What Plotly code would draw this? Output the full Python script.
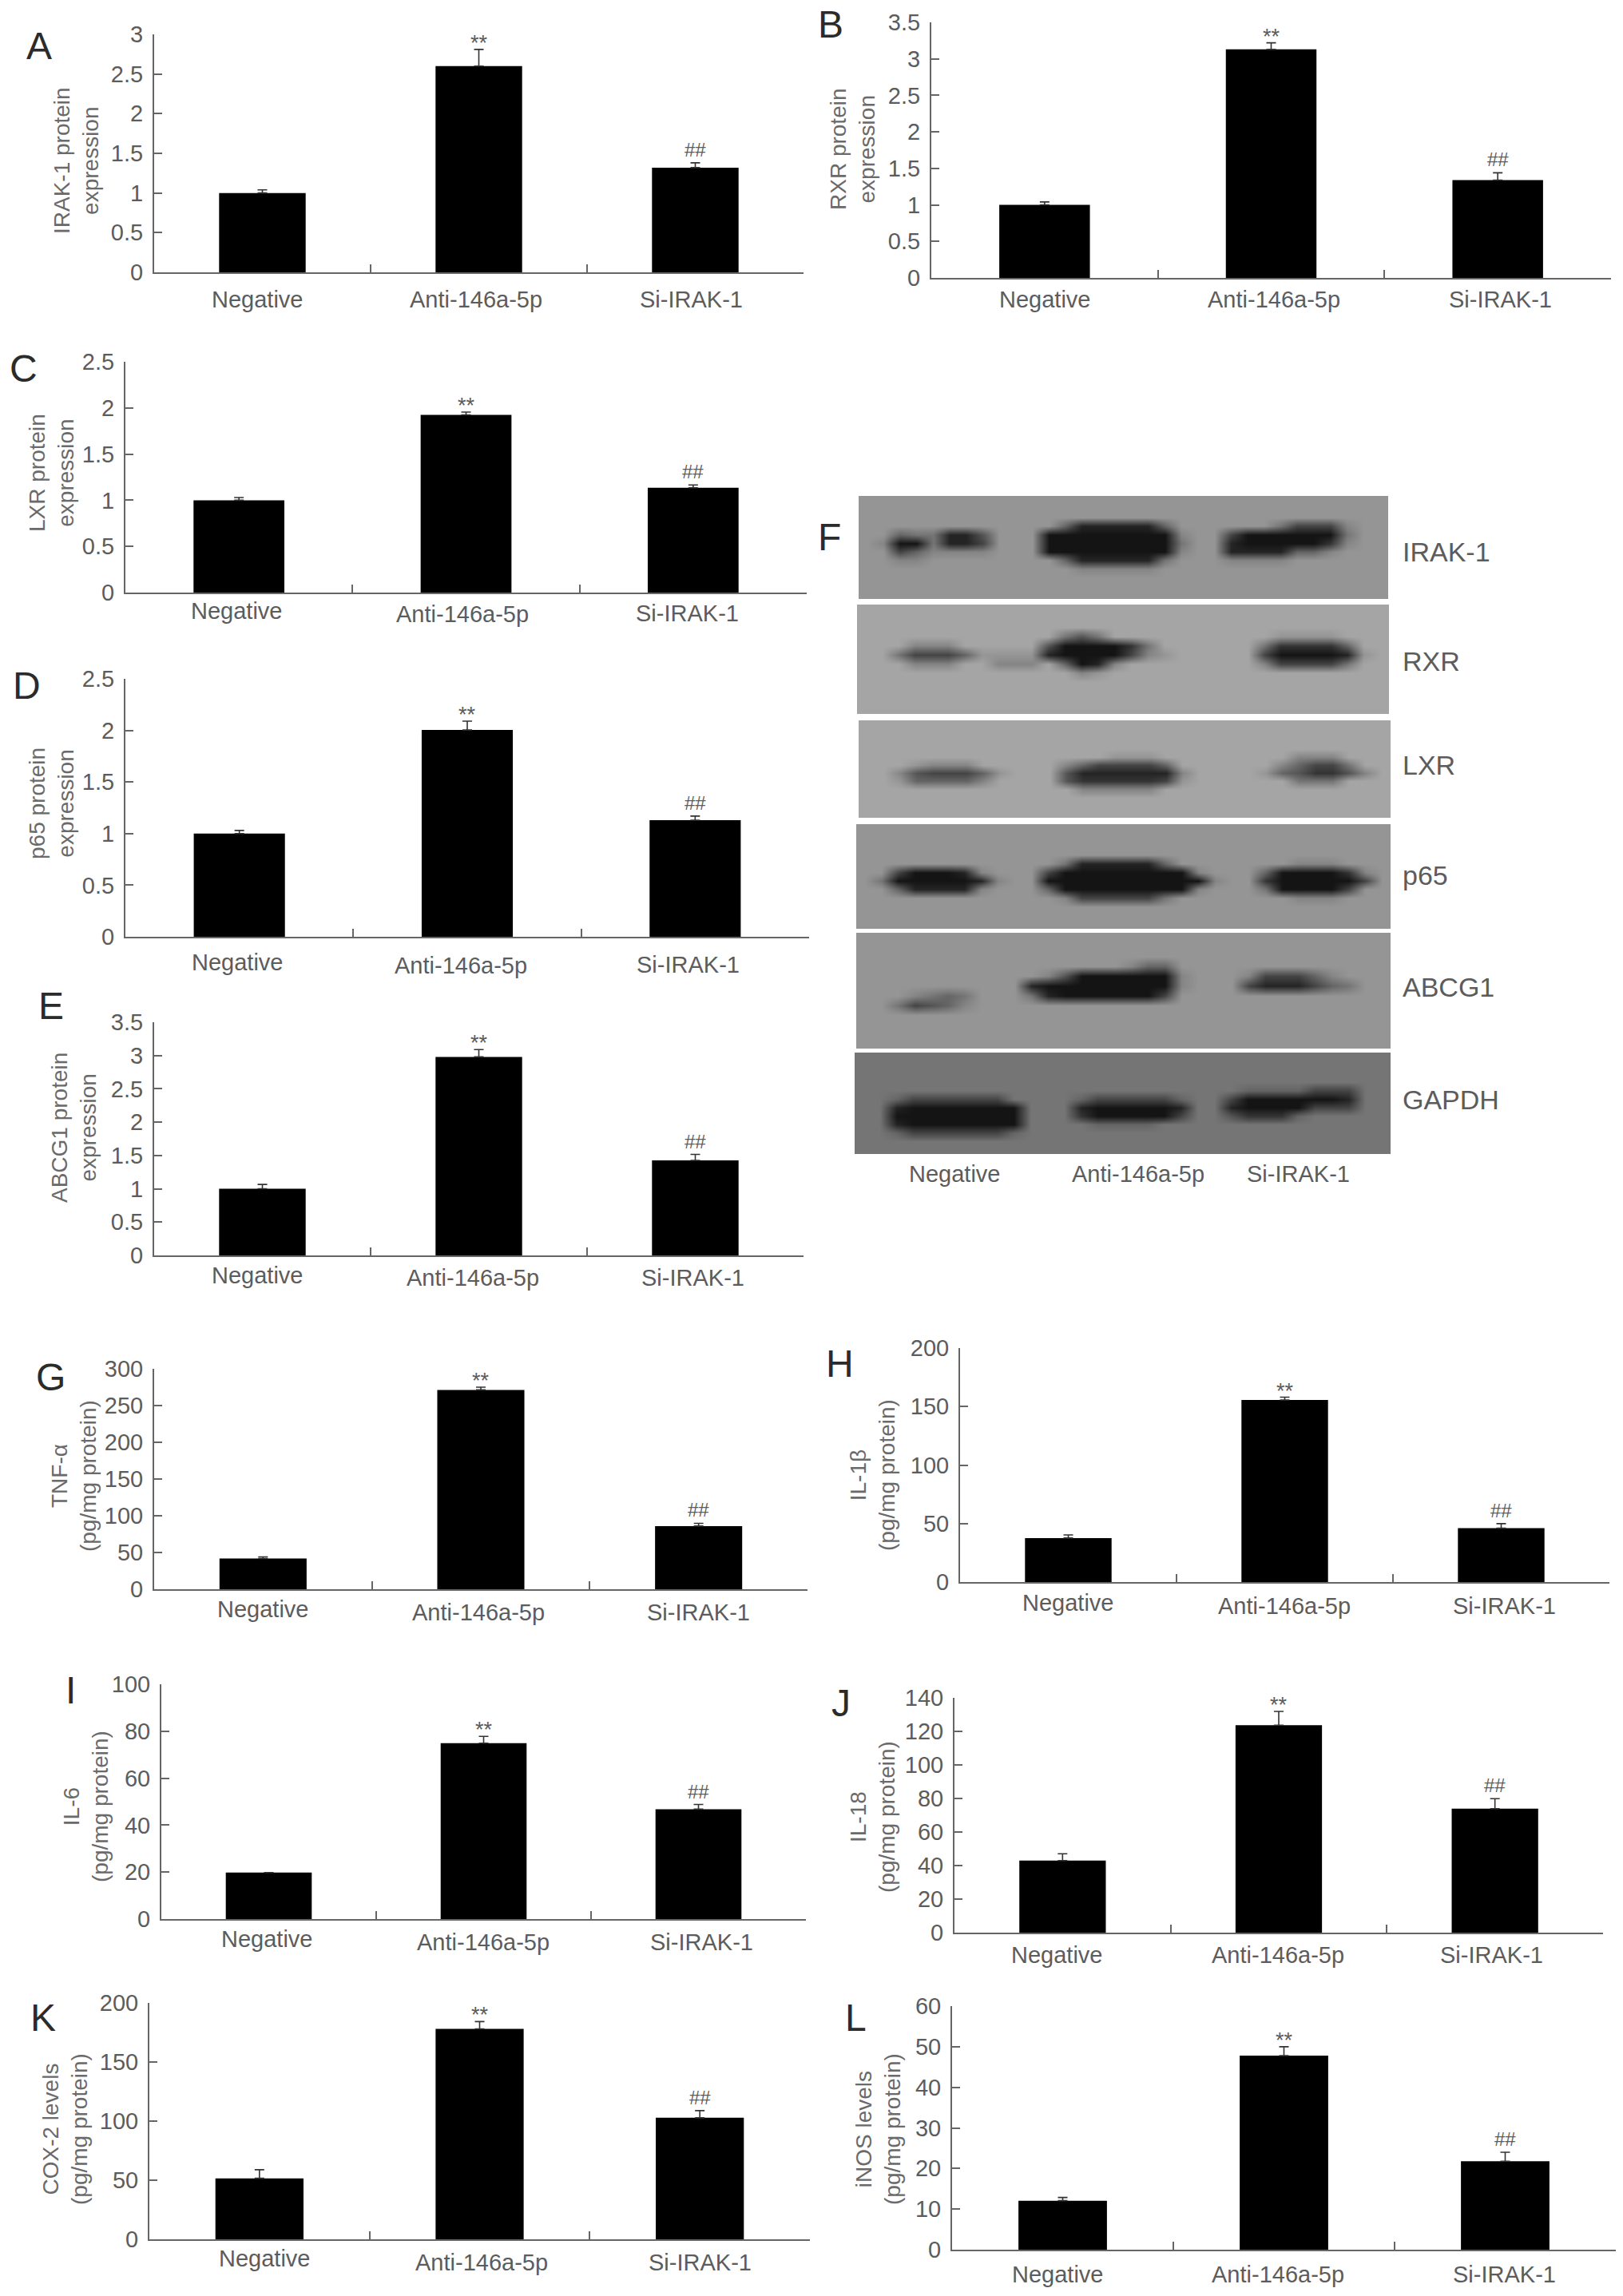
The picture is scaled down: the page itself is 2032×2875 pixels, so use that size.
import plotly.graph_objects as go

W, H = 2032, 2875
GREY = "#5c5c5c"
FONT = "Liberation Sans"

categories = ["Negative", "Anti-146a-5p", "Si-IRAK-1"]

# mean / error values
irak1_values, irak1_errors = [1.0, 2.6, 1.32], [0.04, 0.21, 0.06]
rxr_values, rxr_errors = [1.0, 3.13, 1.34], [0.04, 0.09, 0.10]
lxr_values, lxr_errors = [1.0, 1.925, 1.136], [0.03, 0.03, 0.03]
p65_values, p65_errors = [1.0, 2.005, 1.13], [0.03, 0.085, 0.04]
abcg1_values, abcg1_errors = [1.0, 2.98, 1.426], [0.065, 0.11, 0.09]
tnf_values, tnf_errors = [41.8, 271.3, 86], [2.2, 3.7, 3.7]
il1b_values, il1b_errors = [37.6, 155.6, 46], [2.7, 2.4, 3.9]
il6_values, il6_errors = [19.8, 74.9, 46.8], [0, 2.9, 2.0]
il18_values, il18_errors = [43, 123.7, 73.9], [4, 8.2, 6]
cox2_values, cox2_errors = [51.6, 178, 102.8], [7.3, 6.2, 6.1]
inos_values, inos_errors = [12.07, 47.8, 21.8], [0.8, 2.2, 2.2]

# pixel layout of the bar panels in the 2032x2875 page
panels = [
    dict(letter="A", letter_at=(49, 57), box=(193, 1006, 43, 341), ymax=3, dtick=0.5,
         title="IRAK-1 protein<br>expression", title_at=(95, 201), vals=irak1_values, errs=irak1_errors,
         lab_dy=[34, 34, 34], lab_dx=[-7, -4, -5]),
    dict(letter="B", letter_at=(1040, 30), box=(1166, 2017, 28, 348), ymax=3.5, dtick=0.5,
         title="RXR protein<br>expression", title_at=(1068, 187), vals=rxr_values, errs=rxr_errors,
         lab_dy=[27, 27, 27], lab_dx=[0, 3, 3]),
    dict(letter="C", letter_at=(29, 461), box=(157, 1010, 453, 742), ymax=2.5, dtick=0.5,
         title="LXR protein<br>expression", title_at=(64, 592), vals=lxr_values, errs=lxr_errors,
         lab_dy=[23, 27, 26], lab_dx=[-3, -5, -7]),
    dict(letter="D", letter_at=(33, 858), box=(157, 1013, 850, 1173), ymax=2.5, dtick=0.5,
         title="p65 protein<br>expression", title_at=(64, 1006), vals=p65_values, errs=p65_errors,
         lab_dy=[32, 36, 35], lab_dx=[-3, -8, -9]),
    dict(letter="E", letter_at=(64, 1259), box=(193, 1006, 1280, 1572), ymax=3.5, dtick=0.5,
         title="ABCG1 protein<br>expression", title_at=(93, 1412), vals=abcg1_values, errs=abcg1_errors,
         lab_dy=[25, 28, 28], lab_dx=[-7, -8, -3]),
    dict(letter="G", letter_at=(63, 1724), box=(193, 1011, 1714, 1990), ymax=300, dtick=50,
         title="TNF-α<br>(pg/mg protein)", title_at=(92, 1848), vals=tnf_values, errs=tnf_errors,
         lab_dy=[25, 29, 29], lab_dx=[0, -3, 0]),
    dict(letter="H", letter_at=(1051, 1707), box=(1202, 2015, 1688, 1981), ymax=200, dtick=50,
         title="IL-1β<br>(pg/mg protein)", title_at=(1092, 1847), vals=il1b_values, errs=il1b_errors,
         lab_dy=[26, 30, 30], lab_dx=[-1, -1, 4]),
    dict(letter="I", letter_at=(88, 2116), box=(202, 1009, 2109, 2403), ymax=100, dtick=20,
         title="IL-6<br>(pg/mg protein)", title_at=(107, 2262), vals=il6_values, errs=il6_errors,
         lab_dy=[25, 29, 29], lab_dx=[-3, -1, 4]),
    dict(letter="J", letter_at=(1053, 2132), box=(1195, 2007, 2126, 2420), ymax=140, dtick=20,
         title="IL-18<br>(pg/mg protein)", title_at=(1092, 2275), vals=il18_values, errs=il18_errors,
         lab_dy=[28, 28, 28], lab_dx=[-7, -1, -4]),
    dict(letter="K", letter_at=(54, 2526), box=(187, 1014, 2508, 2804), ymax=200, dtick=50,
         title="COX-2 levels<br>(pg/mg protein)", title_at=(81, 2666), vals=cox2_values, errs=cox2_errors,
         lab_dy=[24, 29, 29], lab_dx=[6, 2, 0]),
    dict(letter="L", letter_at=(1071, 2526), box=(1192, 2023, 2512, 2817), ymax=60, dtick=10,
         title="iNOS levels<br>(pg/mg protein)", title_at=(1099, 2666), vals=inos_values, errs=inos_errors,
         lab_dy=[31, 31, 31], lab_dx=[-7, -8, -1]),
]

# western blot strips: grey levels 0 (dark) to 9 (light)
blot_irak1 = [
    "88888888888888888888888888888888",
    "88888888888888888888888888888888",
    "88888888888888888888888888888888",
    "88888888888851111158888886333788",
    "88566114888000000007883000000688",
    "87006113888000000006881000002788",
    "88357777888000000007881111557888",
    "88778888888851111168887777888888",
    "88888888888887777788888888888888",
    "88888888888888888888888888888888",
    "88888888888888888888888888888888",
    "88888888888888888888888888888888",
]
blot_rxr = [
    "99999999999999999999999999999999",
    "99999999999999999999999999999999",
    "99999999999999999999999999999999",
    "99999999999964699999999998888999",
    "99977799999400002699999962222599",
    "99633358888100003789999930000189",
    "99977799777950179999999973333699",
    "99999999999997899999999999999999",
    "99999999999999999999999999999999",
    "99999999999999999999999999999999",
    "99999999999999999999999999999999",
    "99999999999999999999999999999999",
]
blot_lxr = [
    "99999999999999999999999999999999",
    "99999999999999999999999999999999",
    "99999999999999999999999999999999",
    "99999999999999999999999999999999",
    "99999999999999988899999999777999",
    "99987779999975333359999997533699",
    "99743335899941111117999985422479",
    "99855557999942222238999999666999",
    "99999999999997777799999999999999",
    "99999999999999999999999999999999",
    "99999999999999999999999999999999",
    "99999999999999999999999999999999",
]
blot_p65 = [
    "88888888888888888888888888888888",
    "88888888888888888888888888888888",
    "88888888888888888888888888888888",
    "88888888888888888888888888888888",
    "88888888888861111158888888777888",
    "88300017888300000000788850000278",
    "86000001788000000000078820000038",
    "88511117888500000000788860000388",
    "88888888888873333368888888777888",
    "88888888888888888888888888888888",
    "88888888888888888888888888888888",
    "88888888888888888888888888888888",
]
blot_abcg1 = [
    "88888888888888888888888888888888",
    "88888888888888888888888888888888",
    "88888888888888888888888888888888",
    "88888888888888887558888888888888",
    "88888888888740000007888733357888",
    "88888888881000000007888311135688",
    "88876568886100000038888888888888",
    "88634578888888888888888888888888",
    "88888888888888888888888888888888",
    "88888888888888888888888888888888",
    "88888888888888888888888888888888",
    "88888888888888888888888888888888",
]
blot_gapdh = [
    "66666666666666666666666666666666",
    "66666666666666666666666666666666",
    "66666666666666666666666666666666",
    "66666666666666666666666666666666",
    "66666666666666666666666555533366",
    "66533333366665333335663000000166",
    "66100000006661000001661000033366",
    "66000000006662000003664222566666",
    "66100000006666555566666666666666",
    "66533333356666666666666666666666",
    "66666666666666666666666666666666",
    "66666666666666666666666666666666",
]
blot_labels = ["IRAK-1", "RXR", "LXR", "p65", "ABCG1", "GAPDH"]

blot_strips = [
    (blot_irak1, (1075, 1738, 621, 750), 691),
    (blot_rxr, (1073, 1739, 757, 894), 828),
    (blot_lxr, (1075, 1741, 902, 1024), 958),
    (blot_p65, (1072, 1741, 1032, 1163), 1096),
    (blot_abcg1, (1072, 1741, 1168, 1313), 1236),
    (blot_gapdh, (1070, 1741, 1318, 1445), 1377),
]
blot_lanes = [(1195, "Negative"), (1425, "Anti-146a-5p"), (1625, "Si-IRAK-1")]


def px(x):
    return x / W


def py(y):
    return 1 - y / H


fig = go.Figure()
annotations = []
axes = {}

for n, p in enumerate(panels, start=1):
    x0, x1, y0, y1 = p["box"]
    fig.add_trace(go.Bar(
        x=categories, y=p["vals"], width=0.4,
        marker=dict(color="black", line=dict(width=0)),
        error_y=dict(type="data", symmetric=False, array=p["errs"], arrayminus=[0, 0, 0],
                     color="#333333", thickness=1.6, width=6),
        xaxis=f"x{n}", yaxis=f"y{n}", showlegend=False,
    ))
    axes[f"xaxis{n}"] = dict(
        domain=[px(x0), px(x1)], anchor=f"y{n}", type="category", range=[-0.5, 2.5],
        tickson="boundaries", ticks="inside", ticklen=10, tickwidth=2, tickcolor="#666666",
        showline=True, linecolor="#666666", linewidth=2, showgrid=False, zeroline=False,
        showticklabels=False,
    )
    axes[f"yaxis{n}"] = dict(
        domain=[py(y1), py(y0)], anchor=f"x{n}", range=[0, p["ymax"]], dtick=p["dtick"],
        ticks="inside", ticklen=10, tickwidth=2, tickcolor="#666666",
        showline=True, linecolor="#666666", linewidth=2, showgrid=False, zeroline=False,
        tickfont=dict(family=FONT, size=29, color=GREY), ticklabelstandoff=6,
    )
    # panel letter and y title
    annotations.append(dict(
        text=p["letter"], x=px(p["letter_at"][0]), y=py(p["letter_at"][1]),
        xref="paper", yref="paper", showarrow=False, xanchor="center", yanchor="middle",
        font=dict(family=FONT, size=48, color="#2b2b2b"),
    ))
    annotations.append(dict(
        text=p["title"], x=px(p["title_at"][0]), y=py(p["title_at"][1]), textangle=-90,
        xref="paper", yref="paper", showarrow=False, xanchor="center", yanchor="middle",
        font=dict(family=FONT, size=28, color="#6a6a6a"),
    ))
    # category labels sit a little unevenly under each panel
    for i, cat in enumerate(categories):
        annotations.append(dict(
            text=cat, x=cat, y=0, xref=f"x{n}", yref=f"y{n}", showarrow=False,
            xanchor="center", yanchor="middle", xshift=p["lab_dx"][i], yshift=-p["lab_dy"][i],
            font=dict(family=FONT, size=29, color=GREY),
        ))
    # significance marks above the error caps
    for i, mark, size, shift in [(1, "**", 27, -9), (2, "##", 24, 1)]:
        annotations.append(dict(
            text=mark, x=categories[i], y=p["vals"][i] + p["errs"][i], xref=f"x{n}", yref=f"y{n}",
            showarrow=False, xanchor="center", yanchor="bottom", yshift=shift,
            font=dict(family=FONT, size=size, color=GREY),
        ))

# panel F: blot strips as smoothed grey heatmaps on one hidden pixel axis
n_blot = len(panels) + 1
for strip, (sx0, sx1, sy0, sy1), _ in blot_strips:
    z = [[int(c) for c in row] for row in strip]
    dx = (sx1 - sx0) / len(z[0])
    dy = (sy1 - sy0) / len(z)
    fig.add_trace(go.Heatmap(
        z=z, x0=sx0 + dx / 2, dx=dx, y0=sy0 + dy / 2, dy=dy, zmin=0, zmax=9,
        colorscale=[[0, "rgb(20,20,20)"], [1, "rgb(165,165,165)"]],
        zsmooth="best", showscale=False, hoverinfo="skip",
        xaxis=f"x{n_blot}", yaxis=f"y{n_blot}",
    ))
axes[f"xaxis{n_blot}"] = dict(domain=[px(1060), px(1750)], range=[1060, 1750], visible=False,
                              anchor=f"y{n_blot}")
axes[f"yaxis{n_blot}"] = dict(domain=[py(1455), py(610)], range=[1455, 610], visible=False,
                              anchor=f"x{n_blot}")

annotations.append(dict(
    text="F", x=px(1038), y=py(644), xref="paper", yref="paper", showarrow=False,
    font=dict(family=FONT, size=48, color="#2b2b2b"),
))
for label, (_, _, ly) in zip(blot_labels, blot_strips):
    annotations.append(dict(
        text=label, x=px(1754), y=py(ly), xref="paper", yref="paper", showarrow=False,
        xanchor="left", yanchor="middle", font=dict(family=FONT, size=34, color=GREY),
    ))
for lx, label in blot_lanes:
    annotations.append(dict(
        text=label, x=px(lx), y=py(1470), xref="paper", yref="paper", showarrow=False,
        xanchor="center", yanchor="middle", font=dict(family=FONT, size=29, color=GREY),
    ))

fig.update_layout(
    width=W, height=H, autosize=False,
    margin=dict(l=0, r=0, t=0, b=0, autoexpand=False),
    paper_bgcolor="white", plot_bgcolor="white",
    showlegend=False,
    annotations=annotations,
    **axes,
)

fig.write_html("out.html", config={"displayModeBar": False},
               post_script="document.body.style.margin='0';")
